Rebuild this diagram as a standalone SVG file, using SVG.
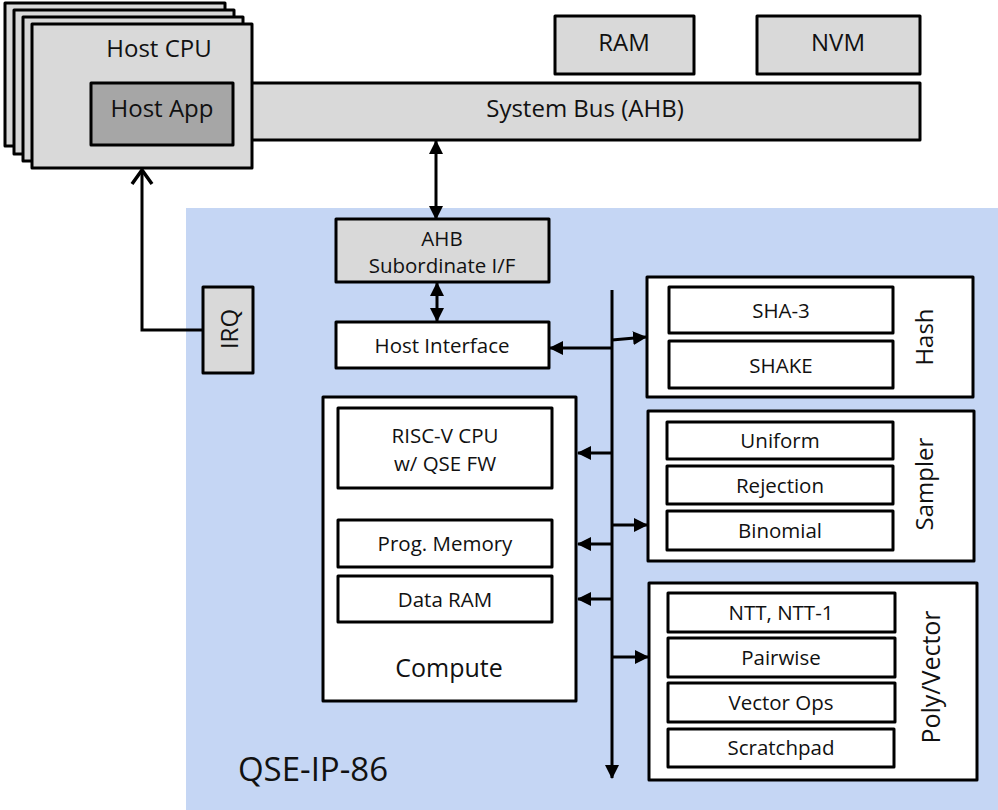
<svg xmlns="http://www.w3.org/2000/svg" width="998" height="810" viewBox="0 0 998 810">
  <style>
    text { font-family: "Open Sans", "Liberation Sans", sans-serif; fill: #111; text-anchor: middle; dominant-baseline: central; }
    .box { stroke: #000; stroke-width: 3; stroke-linejoin: round; }
    .gray { fill: #d9d9d9; }
    .dark { fill: #a6a6a6; }
    .white { fill: #fff; }
    .wire { fill: none; stroke: #000; stroke-width: 3; }
    .t24 { font-size: 24px; }
    .t21 { font-size: 20.5px; }
  </style>
  <defs>
    <marker id="arrow" viewBox="0 0 14 14" refX="13" refY="7" markerWidth="14" markerHeight="14" markerUnits="userSpaceOnUse" orient="auto-start-reverse">
      <path d="M0,0 L14,7 L0,14 z" fill="#000"/>
    </marker>
    <marker id="open" viewBox="0 0 20 24" refX="17" refY="12" markerWidth="20" markerHeight="24" markerUnits="userSpaceOnUse" orient="auto">
      <path d="M3,2 L17,12 L3,22" fill="none" stroke="#000" stroke-width="3.5"/>
    </marker>
  </defs>

  <rect width="998" height="810" fill="#fff"/>

  <!-- QSE IP block background -->
  <rect id="qse-ip" x="186" y="208" width="812" height="602" fill="#c5d6f4"/>
  <text x="313" y="768" style="font-size:33px">QSE-IP-86</text>

  <!-- system bus -->
  <g id="system-bus">
    <rect class="box gray" x="220" y="83" width="700" height="57"/>
    <text class="t24" x="585" y="107">System Bus (AHB)</text>
  </g>

  <!-- host CPU stack -->
  <g id="host-cpu">
    <rect class="box gray" x="5" y="3" width="220" height="143"/>
    <rect class="box gray" x="14" y="10" width="220" height="144"/>
    <rect class="box gray" x="23" y="17" width="220" height="144"/>
    <rect class="box gray" x="32" y="24" width="220" height="144"/>
    <text class="t24" x="159" y="47">Host CPU</text>
  </g>
  <g id="host-app">
    <rect class="box dark" x="91" y="83" width="142" height="62"/>
    <text class="t24" x="162" y="107">Host App</text>
  </g>

  <g id="ram">
    <rect class="box gray" x="555" y="16" width="139" height="58"/>
    <text class="t24" x="624" y="41">RAM</text>
  </g>
  <g id="nvm">
    <rect class="box gray" x="757" y="16" width="163" height="58"/>
    <text class="t24" x="838" y="41">NVM</text>
  </g>

  <g id="ahb-sub">
    <rect class="box gray" x="336" y="219" width="213" height="63"/>
    <text class="t21" x="442" y="238">AHB</text>
    <text class="t21" x="442" y="265">Subordinate I/F</text>
  </g>

  <g id="host-interface">
    <rect class="box white" x="336" y="322" width="213" height="46"/>
    <text class="t21" x="442" y="345">Host Interface</text>
  </g>

  <g id="irq">
    <rect class="box gray" x="203" y="287" width="50" height="86"/>
    <text class="t24" transform="translate(228,329) rotate(-90)">IRQ</text>
  </g>

  <g id="compute">
    <rect class="box white" x="323" y="397" width="253" height="304"/>
    <rect class="box white" x="338" y="408" width="214" height="80"/>
    <text class="t21" x="445" y="435">RISC-V CPU</text>
    <text class="t21" x="445" y="463">w/ QSE FW</text>
    <rect class="box white" x="338" y="520" width="214" height="47"/>
    <text class="t21" x="445" y="543">Prog. Memory</text>
    <rect class="box white" x="338" y="576" width="214" height="46"/>
    <text class="t21" x="445" y="599">Data RAM</text>
    <text x="449" y="667" style="font-size:25px">Compute</text>
  </g>

  <g id="hash">
    <rect class="box white" x="647" y="277" width="326" height="120"/>
    <rect class="box white" x="669" y="287" width="224" height="46"/>
    <text class="t21" x="781" y="310">SHA-3</text>
    <rect class="box white" x="669" y="341" width="224" height="47"/>
    <text class="t21" x="781" y="365">SHAKE</text>
    <text class="t24" transform="translate(923,337) rotate(-90)">Hash</text>
  </g>

  <g id="sampler">
    <rect class="box white" x="648" y="411" width="326" height="150"/>
    <rect class="box white" x="667" y="422" width="226" height="37"/>
    <text class="t21" x="780" y="440">Uniform</text>
    <rect class="box white" x="667" y="466" width="226" height="38"/>
    <text class="t21" x="780" y="485">Rejection</text>
    <rect class="box white" x="667" y="511" width="226" height="39"/>
    <text class="t21" x="780" y="530">Binomial</text>
    <text class="t24" transform="translate(923,484) rotate(-90)">Sampler</text>
  </g>

  <g id="poly-vector">
    <rect class="box white" x="649" y="583" width="328" height="197"/>
    <rect class="box white" x="668" y="593" width="227" height="39"/>
    <text class="t21" x="781" y="612">NTT, NTT-1</text>
    <rect class="box white" x="668" y="638" width="227" height="39"/>
    <text class="t21" x="781" y="657">Pairwise</text>
    <rect class="box white" x="668" y="683" width="227" height="39"/>
    <text class="t21" x="781" y="702">Vector Ops</text>
    <rect class="box white" x="668" y="729" width="226" height="38"/>
    <text class="t21" x="781" y="747">Scratchpad</text>
    <text transform="translate(930,677) rotate(-90)" style="font-size:25px">Poly/Vector</text>
  </g>

  <!-- connectors -->
  <g id="connectors">
    <line class="wire" x1="436" y1="141" x2="436" y2="219" marker-start="url(#arrow)" marker-end="url(#arrow)"/>
    <line class="wire" x1="437" y1="283" x2="437" y2="321" marker-start="url(#arrow)" marker-end="url(#arrow)"/>
    <path class="wire" d="M203,330 H142 V170" marker-end="url(#open)"/>
    <line class="wire" x1="612" y1="290" x2="612" y2="778" marker-end="url(#arrow)"/>
    <line class="wire" x1="612" y1="348" x2="550" y2="348" marker-end="url(#arrow)"/>
    <line class="wire" x1="612" y1="340" x2="646" y2="337" marker-end="url(#arrow)"/>
    <line class="wire" x1="612" y1="453" x2="578" y2="453" marker-end="url(#arrow)"/>
    <line class="wire" x1="612" y1="525" x2="647" y2="525" marker-end="url(#arrow)"/>
    <line class="wire" x1="612" y1="544" x2="578" y2="544" marker-end="url(#arrow)"/>
    <line class="wire" x1="612" y1="599" x2="578" y2="599" marker-end="url(#arrow)"/>
    <line class="wire" x1="612" y1="657" x2="648" y2="657" marker-end="url(#arrow)"/>
  </g>
</svg>
